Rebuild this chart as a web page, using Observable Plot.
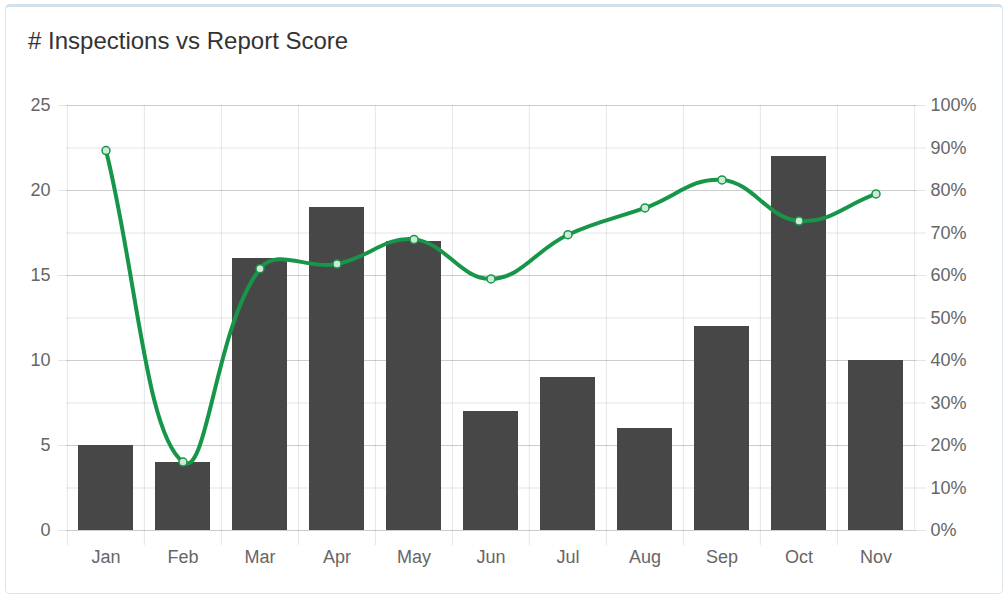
<!DOCTYPE html>
<html>
<head>
<meta charset="utf-8">
<script src="https://cdn.jsdelivr.net/npm/d3@7"></script>
<script src="https://cdn.jsdelivr.net/npm/@observablehq/plot@0.6"></script>
<style>
  html, body { margin: 0; padding: 0; background: #fff; width: 1008px; height: 595px; overflow: hidden; }
  body { font-family: "Liberation Sans", Arial, Helvetica, sans-serif; position: relative; }
  #card { position: absolute; left: 5px; top: 4px; width: 996px; height: 586px; border: 1px solid #dbe3ea; border-top: 3px solid #d3e0ea; border-radius: 5px; background: #fff; }
  #title { position: absolute; left: 28px; top: 27px; font-size: 24px; color: #333; white-space: nowrap; }
  #chart { position: absolute; left: 0; top: 0; }
</style>
</head>
<body>
<div id="card"></div>
<div id="title"># Inspections vs Report Score</div>
<div id="chart"></div>
<script>
const months = ["Jan","Feb","Mar","Apr","May","Jun","Jul","Aug","Sep","Oct","Nov"];
const inspections = [5, 4, 16, 19, 17, 7, 9, 6, 12, 22, 10];
const reportScore = [89.4, 16.1, 61.6, 62.7, 68.5, 59.2, 69.6, 75.9, 82.5, 72.8, 79.2];
const leftTicks = [0, 5, 10, 15, 20, 25];
const rightTicks = [0, 10, 20, 30, 40, 50, 60, 70, 80, 90, 100];

const bars = months.map((m, i) => ({month: m, value: inspections[i]}));
const line = months.map((m, i) => ({month: m, score: reportScore[i]}));
const pctToY = p => p / 4; // 100% maps onto the 25 of the left axis

// Chart.js-like spline (tension 0.4)
function chartjsCurve(context) {
  let pts = [];
  const t = 0.4;
  return {
    areaStart() {}, areaEnd() {},
    lineStart() { pts = []; },
    point(x, y) { pts.push([+x, +y]); },
    lineEnd() {
      const n = pts.length;
      if (!n) return;
      const cps = pts.map((p, i) => {
        const prev = pts[i - 1] || p, next = pts[i + 1] || p;
        const d01 = Math.hypot(p[0] - prev[0], p[1] - prev[1]);
        const d12 = Math.hypot(next[0] - p[0], next[1] - p[1]);
        let s01 = d01 / (d01 + d12), s12 = d12 / (d01 + d12);
        if (!isFinite(s01)) s01 = 0; if (!isFinite(s12)) s12 = 0;
        const fa = t * s01, fb = t * s12;
        return {
          prev: [p[0] - fa * (next[0] - prev[0]), p[1] - fa * (next[1] - prev[1])],
          next: [p[0] + fb * (next[0] - prev[0]), p[1] + fb * (next[1] - prev[1])]
        };
      });
      context.moveTo(pts[0][0], pts[0][1]);
      for (let i = 1; i < n; i++) {
        const a = cps[i - 1].next, b = cps[i].prev;
        context.bezierCurveTo(a[0], a[1], b[0], b[1], pts[i][0], pts[i][1]);
      }
    }
  };
}

const W = 1008, H = 595;
const mL = 66, mR = 92, mT = 105, mB = 65;
const step = (W - mL - mR) / months.length;
const green = "#17964a";
const grid = "rgba(0,0,0,0.1)";

const chart = Plot.plot({
  width: W, height: H,
  marginLeft: mL, marginRight: mR, marginTop: mT, marginBottom: mB,
  style: {fontFamily: '"Liberation Sans", Arial, Helvetica, sans-serif', fontSize: "18px", color: "#666", background: "transparent", overflow: "visible"},
  x: {domain: months, paddingInner: 0.28, paddingOuter: 0.14, label: null},
  y: {domain: [0, 25], label: null},
  marks: [
    Plot.ruleY(leftTicks, {stroke: grid, insetLeft: -8}),
    Plot.ruleY(rightTicks.map(pctToY), {stroke: grid, insetRight: -10}),
    Plot.ruleX(months, {x: d => d, dx: -step / 2, stroke: grid, insetBottom: -15}),
    Plot.ruleX(months.slice(-1), {x: d => d, dx: step / 2, stroke: grid}),
    Plot.barY(bars, {x: "month", y: "value", fill: "#474747"}),
    Plot.line(line, {x: "month", y: d => pctToY(d.score), stroke: green, strokeWidth: 4, curve: chartjsCurve}),
    Plot.dot(line, {x: "month", y: d => pctToY(d.score), r: 4, stroke: green, strokeWidth: 1.5, fill: "#cfe9d7"}),
    Plot.axisY({ticks: leftTicks, tickSize: 0, tickPadding: 16, anchor: "left", label: null, fill: "#666"}),
    Plot.axisY({ticks: rightTicks.map(pctToY), tickSize: 0, tickPadding: 14, anchor: "right", label: null, fill: "#666", tickFormat: d => Math.round(d * 4) + "%"}),
    Plot.axisX({tickSize: 0, tickPadding: 20, label: null, fill: "#666"})
  ]
});
document.getElementById("chart").appendChild(chart);
</script>
</body>
</html>
